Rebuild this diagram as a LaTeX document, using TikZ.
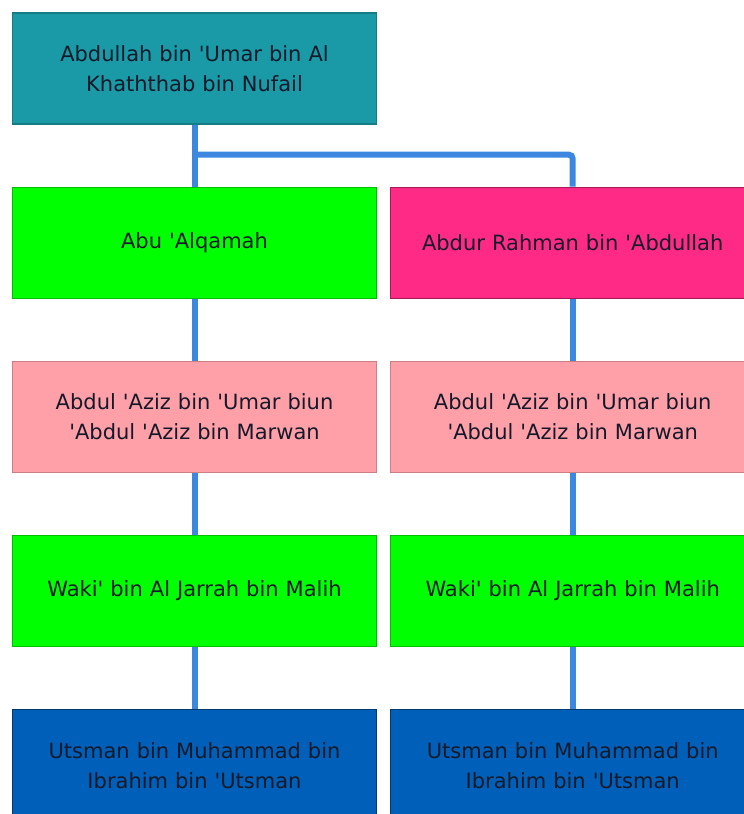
\documentclass[tikz,border=0pt]{standalone}
\usepackage{fontspec}
\setmainfont{DejaVu Sans}[Ligatures=TeXOff]
\usepackage{xcolor}
\usetikzlibrary{positioning}
\usetikzlibrary{calc}

\definecolor{teal1}{HTML}{1A9AA6}
\definecolor{green1}{HTML}{00FF00}
\definecolor{rose1}{HTML}{FF2A86}
\definecolor{pink1}{HTML}{FFA0A8}
\definecolor{navy1}{HTML}{005FB8}
\definecolor{wire}{HTML}{3C87E0}
\definecolor{ink}{HTML}{141A2A}

\begin{document}
\begin{tikzpicture}[x=1pt,y=-1pt,node distance=62pt,
                    main node/.style={rectangle,draw,line width=1.2pt,minimum width=364pt,minimum height=111pt,
                    text width=350pt,align=center,text=ink,font=\fontsize{21}{30}\selectfont},
                    link/.style={draw=wire,line width=6pt,rounded corners=4pt}]
      \useasboundingbox (0,0) rectangle (744,814);

      \node[main node,fill=teal1,draw=teal1!80!black] (1) at (194.5,68.5) {Abdullah bin 'Umar bin Al\\Khaththab bin Nufail};
      \node[main node,fill=green1,draw=green1!75!black] (2) [below=of 1] {Abu 'Alqamah};
      \node[main node,fill=rose1,draw=rose1!65!black] (3) [right=13pt of 2] {Abdur Rahman bin 'Abdullah};
      \node[main node,fill=pink1,draw=pink1!80!black] (4) [below=of 2] {Abdul 'Aziz bin 'Umar biun\\'Abdul 'Aziz bin Marwan};
      \node[main node,fill=pink1,draw=pink1!80!black] (5) [below=of 3] {Abdul 'Aziz bin 'Umar biun\\'Abdul 'Aziz bin Marwan};
      \node[main node,fill=green1,draw=green1!75!black] (6) [below=of 4] {Waki' bin Al Jarrah bin Malih};
      \node[main node,fill=green1,draw=green1!75!black] (7) [below=of 5] {Waki' bin Al Jarrah bin Malih};
      \node[main node,fill=navy1,draw=navy1!60!black] (8) [below=of 6] {Utsman bin Muhammad bin\\Ibrahim bin 'Utsman};
      \node[main node,fill=navy1,draw=navy1!60!black] (9) [below=of 7] {Utsman bin Muhammad bin\\Ibrahim bin 'Utsman};

      \coordinate (s) at ($(1.south)+(0,30)$);

      \path[link]
	(1) edge (2)
	(2) edge (4)
	(4) edge (6)
	(6) edge (8)
	(3) edge (5)
	(5) edge (7)
	(7) edge (9);
      \draw[link] (s) -| (3);

\end{tikzpicture}
\end{document}
